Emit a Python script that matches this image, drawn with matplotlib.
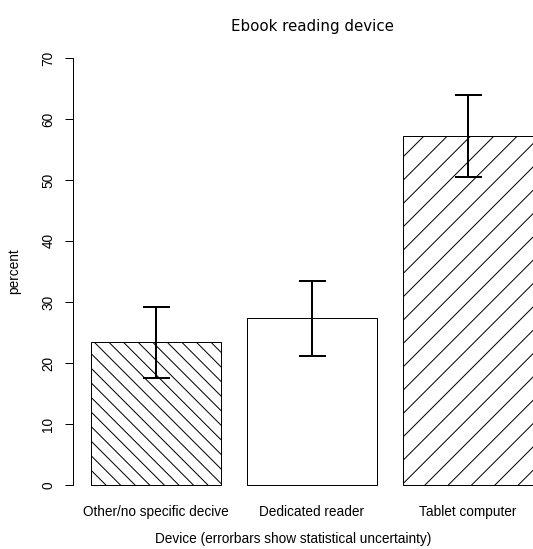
import matplotlib
matplotlib.use("Agg")
import matplotlib.pyplot as plt

# R-style barplot of ebook reading devices with error bars

DPI = 350
W, H = 533, 549


def pt(px):
    # pixel sizes -> points at this dpi
    return px * 72.0 / DPI


devices = ["Other/no specific decive", "Dedicated reader", "Tablet computer"]
percent = [23.4, 27.35, 57.2]
err_low = [17.6, 21.2, 50.5]
err_high = [29.2, 33.5, 63.9]
# hatch spacing is dpi / (3 * count), so these give ~15 px and ~23 px
hatches = ["\\" * 8, "", "/" * 5]

plt.rcParams["font.family"] = ["Liberation Sans", "DejaVu Sans"]
plt.rcParams["hatch.linewidth"] = pt(1)

fig = plt.figure(figsize=(W / DPI, H / DPI), dpi=DPI)
ax = fig.add_axes([73.3 / W, 1 - 502.1 / H, 477.4 / W, (502.1 - 40.9) / H])

# barplot layout: width 1, space 0.2
centers = [0.2 + i * 1.2 + 0.5 for i in range(len(devices))]

bars = ax.bar(centers, percent, width=1.0, color="white", edgecolor="black",
              linewidth=pt(1))
for b, h in zip(bars, hatches):
    b.set_hatch(h)

yerr = [[p - lo for p, lo in zip(percent, err_low)],
        [hi - p for p, hi in zip(percent, err_high)]]
ax.errorbar(centers, percent, yerr=yerr, fmt="none", ecolor="black",
            elinewidth=pt(2), capsize=pt(13.5), capthick=pt(2))

ax.set_xlim(0.064, 3.736)
ax.set_ylim(-2.8, 72.8)

for s in ["top", "right", "bottom"]:
    ax.spines[s].set_visible(False)
ax.spines["left"].set_bounds(0, 70)
ax.spines["left"].set_linewidth(pt(1))

ax.set_yticks(range(0, 71, 10))
ax.tick_params(axis="y", length=pt(8), width=pt(1), labelsize=pt(13.6), pad=pt(10))
for lab in ax.get_yticklabels():
    lab.set_rotation(90)
    lab.set_va("center")

ax.set_xticks(centers, devices)
ax.tick_params(axis="x", length=0, pad=pt(3), labelsize=pt(13.6))

ax.set_xlabel("Device (errorbars show statistical uncertainty)", fontsize=pt(13.6))
ax.xaxis.set_label_coords((293 - 73.3) / 477.4, (502.1 - 532) / 461.2)
ax.set_ylabel("percent", fontsize=pt(13.6), labelpad=pt(20))

ax.set_title("Ebook reading device", fontsize=pt(15), pad=pt(10),
             family="DejaVu Sans")

fig.savefig("out.png", dpi=DPI)
